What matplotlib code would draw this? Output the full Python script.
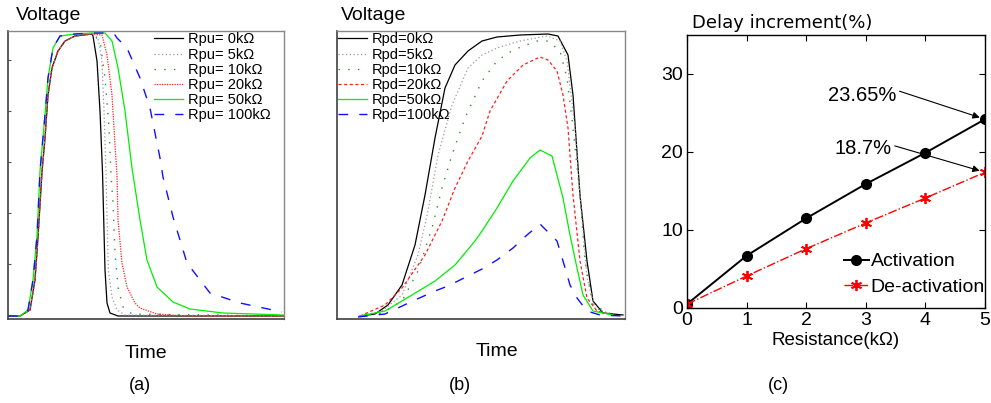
import matplotlib
matplotlib.use('Agg')
import matplotlib.pyplot as plt

plt.rcParams['font.family'] = ['Liberation Sans', 'DejaVu Sans']

# ---- panel (a): pull-up resistance, time / voltage in arbitrary units
a_rise_t = [0, 12, 22, 27, 30, 34, 37, 40, 44, 50, 57, 67, 84]
a_rise_v = [3, 3, 9, 39, 82, 147, 181, 224, 251, 268, 278, 283, 285]
a_rise2_t = [0, 12, 20, 25, 29, 32, 37, 40, 45, 52, 67, 84]
a_rise2_v = [3, 3, 9, 39, 83, 148, 204, 241, 271, 283, 285, 286]

a_fall_t = {
    '0k': [85, 89, 92, 94.5, 97, 99, 102, 110, 276],
    '5k': [90, 94, 96, 98, 98.7, 100.3, 104, 109, 117, 276],
    '10k': [92, 97, 101, 103, 105, 107, 110, 115, 124, 276],
    '20k': [94, 99, 104, 107, 109, 110, 114, 119, 127, 132, 149, 175, 276],
    '50k': [97, 104, 110, 117, 124, 132, 139, 149, 165, 182, 215, 275],
    '100k': [97, 107, 109, 119, 132, 142, 152, 155, 165, 179, 202, 232, 274],
}
a_fall_v = {
    '0k': [283, 258, 208, 147, 49, 16, 6, 3, 3],
    '5k': [281, 258, 208, 144, 116, 49, 22, 9, 4, 3],
    '10k': [278, 241, 191, 144, 116, 66, 32, 12, 5, 3],
    '20k': [284, 264, 224, 174, 144, 99, 56, 32, 16, 11, 5, 3, 3],
    '50k': [286, 278, 251, 208, 151, 99, 59, 32, 17, 10, 6, 4],
    '100k': [286, 284, 281, 271, 241, 211, 161, 142, 102, 56, 26, 16, 7],
}

# ---- panel (b): pull-down resistance
b_t = {
    '0k': [23, 38, 51, 65, 78, 88, 98, 108, 118, 131, 145, 160, 183, 211, 221, 231, 236, 243, 250, 256, 266, 286],
    '5k': [23, 45, 65, 81, 91, 101, 115, 131, 145, 160, 183, 210, 223, 230, 238, 243, 250, 258, 276],
    '10k': [23, 45, 65, 81, 95, 105, 115, 128, 145, 160, 176, 200, 211, 223, 230, 236, 243, 248, 256, 276],
    '20k': [23, 48, 65, 88, 105, 118, 131, 145, 153, 170, 186, 203, 211, 220, 226, 231, 236, 243, 250, 260, 276],
    '50k': [23, 48, 65, 98, 118, 138, 145, 160, 176, 193, 203, 215, 226, 233, 240, 246, 256, 276],
    '100k': [21, 48, 78, 98, 111, 131, 145, 160, 176, 190, 203, 220, 226, 233, 240, 250, 263, 286],
}
b_v = {
    '0k': [3, 5, 14, 34, 74, 124, 181, 231, 254, 268, 278, 282, 284, 285, 283, 264, 224, 124, 58, 18, 6, 4],
    '5k': [3, 8, 24, 64, 108, 164, 214, 251, 264, 271, 278, 283, 278, 258, 191, 124, 41, 11, 4],
    '10k': [3, 6, 18, 48, 91, 131, 164, 201, 238, 258, 269, 278, 278, 268, 241, 191, 124, 58, 14, 4],
    '20k': [3, 14, 31, 64, 98, 131, 158, 183, 208, 238, 254, 262, 259, 248, 224, 191, 124, 58, 21, 8, 4],
    '50k': [3, 8, 18, 38, 54, 78, 88, 111, 138, 161, 169, 163, 121, 84, 51, 24, 8, 4],
    '100k': [2, 5, 19, 28, 33, 43, 50, 59, 71, 84, 95, 78, 58, 34, 21, 8, 4, 3],
}

resist = [0, 1, 2, 3, 4, 5]
activation = [0.5, 6.7, 11.5, 15.9, 19.9, 24.2]
deactivation = [0.5, 4.1, 7.6, 10.9, 14.1, 17.4]

keys = ['0k', '5k', '10k', '20k', '50k', '100k']
styles = {
    '0k': dict(color='k', ls='-', lw=0.9),
    '5k': dict(color='#9a9a9a', ls=(0, (1, 2)), lw=0.9),
    '10k': dict(color='#2e8b2e', ls=(0, (1, 6)), lw=1.0),
    '20k': dict(color='#ff2020', ls=(0, (1, 1)), lw=0.9),
    '50k': dict(color='#00ee00', ls='-', lw=0.9),
    '100k': dict(color='#1010ff', ls=(0, (7, 8)), lw=1.0),
}

fig = plt.figure(figsize=(9.91, 4.03), dpi=100)
W, H = 991.0, 403.0

# ---------------- (a)
ax1 = fig.add_axes([8 / W, (H - 319) / H, 276 / W, 288 / H])
for k in keys:
    if k in ('50k', '100k'):
        t = a_rise2_t + a_fall_t[k]
        v = a_rise2_v + a_fall_v[k]
    else:
        t = a_rise_t + a_fall_t[k]
        v = a_rise_v + a_fall_v[k]
    ax1.plot(t, v, label='Rpu= ' + k + 'Ω', **styles[k])
ax1.set_xlim(0, 276)
ax1.set_ylim(0, 288)
ax1.set_xticks([])
ax1.set_yticks(range(4, 288, 51))
ax1.tick_params(axis='y', direction='in', length=2, labelleft=False, color='#555555')
ax1.legend(loc='upper left', bbox_to_anchor=(0.53, 0.995), frameon=False,
           fontsize=10.5, handlelength=2.0, handletextpad=0.3,
           labelspacing=0.08, borderpad=0, borderaxespad=0)
fig.text(16 / W, 1 - 16 / H, 'Voltage', fontsize=14, ha='left', va='center')
fig.text(146 / W, 1 - 353 / H, 'Time', fontsize=14, ha='center', va='center')
fig.text(140 / W, 1 - 385 / H, '(a)', fontsize=13, ha='center', va='center')

# ---------------- (b)
ax2 = fig.add_axes([337 / W, (H - 319) / H, 288 / W, 288 / H])
b_styles = dict(styles)
b_styles['20k'] = dict(color='#ff2020', ls=(0, (2.5, 2)), lw=0.9)
for k in keys:
    ax2.plot(b_t[k], b_v[k], label='Rpd=' + k + 'Ω', **b_styles[k])
ax2.set_xlim(0, 288)
ax2.set_ylim(0, 288)
ax2.set_xticks([])
ax2.set_yticks([])
ax2.legend(loc='upper left', bbox_to_anchor=(0.003, 0.995), frameon=False,
           fontsize=10.5, handlelength=2.0, handletextpad=0.3,
           labelspacing=0.08, borderpad=0, borderaxespad=0)
fig.text(341 / W, 1 - 16 / H, 'Voltage', fontsize=14, ha='left', va='center')
fig.text(497 / W, 1 - 351 / H, 'Time', fontsize=14, ha='center', va='center')
fig.text(460 / W, 1 - 385 / H, '(b)', fontsize=13, ha='center', va='center')

for ax in (ax1, ax2):
    for s in ('left', 'bottom'):
        ax.spines[s].set_color('#404040')
        ax.spines[s].set_linewidth(1.2)
    for s in ('top', 'right'):
        ax.spines[s].set_color('#888888')
        ax.spines[s].set_linewidth(1.0)

# ---------------- (c)
ax3 = fig.add_axes([687 / W, (H - 308) / H, 298 / W, 273 / H])
ax3.plot(resist, activation, '-o', color='k', lw=1.4, ms=7, label='Activation')
ax3.plot(resist, deactivation, '-.', marker=(6, 2, 0), color='#ff0000', lw=1.0,
         ms=8, mew=1.3, label='De-activation')
ax3.set_xlim(0, 5)
ax3.set_ylim(0, 35)
ax3.set_xticks(resist)
ax3.set_yticks([0, 10, 20, 30])
ax3.tick_params(direction='in', length=4, labelsize=14, top=True, right=True,
                pad=3)
for s in ax3.spines.values():
    s.set_linewidth(1.0)
ax3.set_xlabel('Resistance(kΩ)', fontsize=13.5, labelpad=2)
ax3.legend(loc='lower right', bbox_to_anchor=(1.0, 0.045), frameon=False,
           fontsize=14, handlelength=1.3, handletextpad=0.1,
           labelspacing=0.4, borderpad=0, borderaxespad=0)
ax3.annotate('23.65%', xy=(resist[5], activation[5]), xytext=(3.52, 27.3),
             fontsize=14.5, ha='right', va='center',
             arrowprops=dict(arrowstyle='-|>', color='k', lw=0.8,
                             mutation_scale=10, relpos=(1.0, 0.75),
                             shrinkA=0, shrinkB=4))
ax3.annotate('18.7%', xy=(resist[5], deactivation[5]), xytext=(3.44, 20.4),
             fontsize=14.5, ha='right', va='center',
             arrowprops=dict(arrowstyle='-|>', color='k', lw=0.8,
                             mutation_scale=10, relpos=(1.0, 0.7),
                             shrinkA=0, shrinkB=4))
fig.text(692 / W, 1 - 23 / H, 'Delay increment(%)', fontsize=13,
         family='DejaVu Sans', ha='left', va='center')
fig.text(778 / W, 1 - 385 / H, '(c)', fontsize=13, ha='center', va='center')

fig.savefig('out.png', dpi=100)
